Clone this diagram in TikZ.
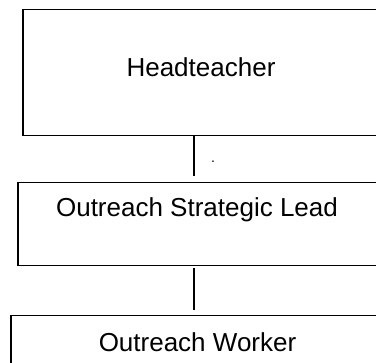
\documentclass[tikz,border=0pt]{standalone}
\usepackage{fontspec}
\setmainfont{Liberation Sans}
\begin{document}
\begin{tikzpicture}[x=1pt,y=-1pt,
  orgbox/.style={draw=black,line width=1.5pt,rectangle,inner sep=0pt},
  orglabel/.style={anchor=base,inner sep=0pt,font=\fontsize{26}{30}\selectfont},
  link/.style={draw=black,line width=1.5pt}]
\useasboundingbox (0,0) rectangle (376,363);
\clip (0,0) rectangle (376,363);
% boxes (extend past right edge)
\node[orgbox,minimum width=380pt,minimum height=126pt,anchor=north west] (head) at (22,9) {};
\node[orgbox,minimum width=385pt,minimum height=83pt,anchor=north west] (lead) at (17,182) {};
\node[orgbox,minimum width=392pt,minimum height=90pt,anchor=north west] (worker) at (10,315) {};
% labels
\node[orglabel] (headtxt) at (201,77) {Headteacher};
\node[orglabel] (leadtxt) at (197,217) {Outreach Strategic Lead};
\node[orglabel] (workertxt) at (197.5,352) {Outreach Worker};
\node[inner sep=0pt,font=\fontsize{14}{16}\selectfont,anchor=base] (dot) at (213,163) {.};
% connectors
\coordinate (c1a) at (194,135);
\coordinate (c1b) at (194,176);
\coordinate (c2a) at (194,268);
\coordinate (c2b) at (194,310);
\draw[link] (c1a) -- (c1b);
\draw[link] (c2a) -- (c2b);
\end{tikzpicture}
\end{document}
